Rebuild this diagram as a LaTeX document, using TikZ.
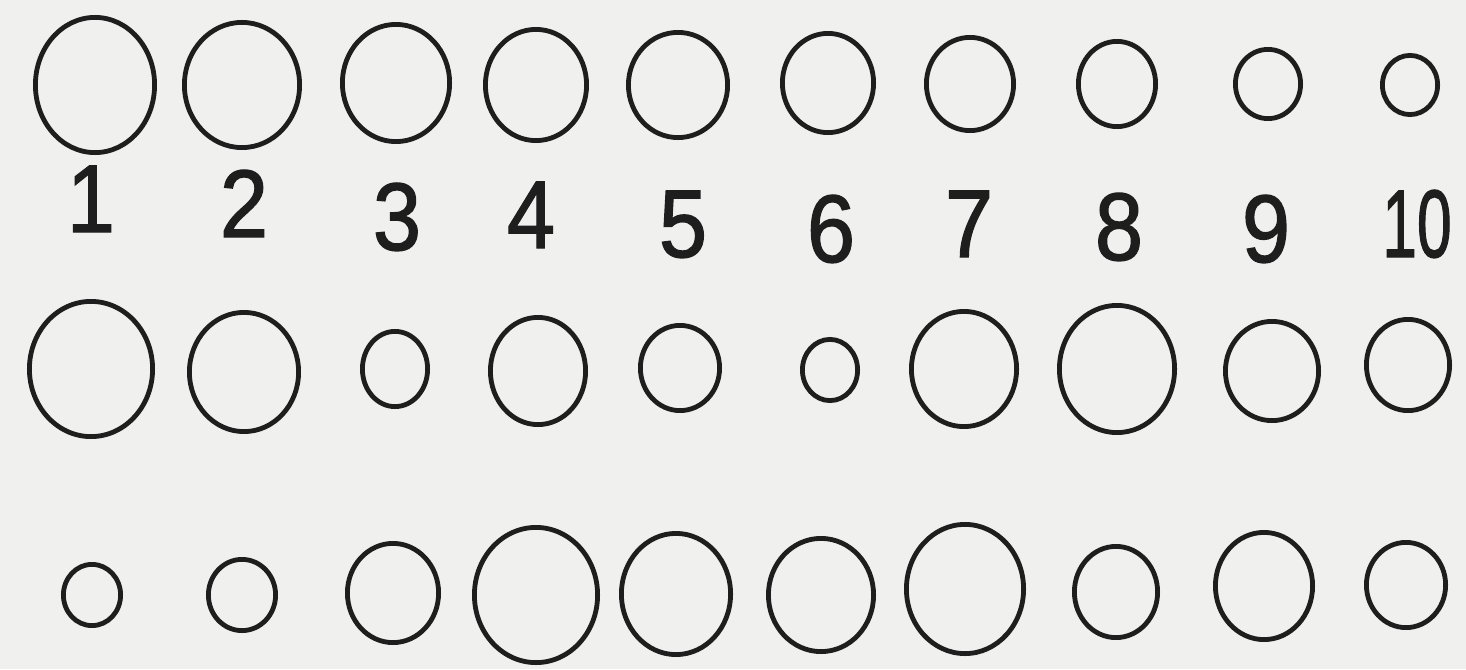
\documentclass[tikz,border=0pt]{standalone}
\usepackage{fontspec}
\setmainfont{Liberation Sans}[FakeBold=1.5]
\usetikzlibrary{shapes.geometric}
\definecolor{paper}{RGB}{240,240,239}
\definecolor{ink}{RGB}{30,30,30}
\tikzset{
  ring/.style={ellipse, draw=ink, line width=4.8pt, inner sep=0pt},
  numlabel/.style={anchor=base, text=ink, inner sep=0pt, font=\fontsize{96}{96}\selectfont}
}
\begin{document}
\begin{tikzpicture}[x=1pt,y=-1pt]
\fill[paper] (0,0) rectangle (1466,669);
\useasboundingbox (0,0) rectangle (1466,669);
% top row
\foreach \n/\x/\y/\a/\b in {1/95/85/62/70, 2/242/85/60/65, 3/396/83/56/61, 4/536/85/53/58, 5/678/85/52/55,
  6/828/83/48/52, 7/970/84/46/49, 8/1117/84/41/45, 9/1268/84/35/37, 10/1410/85/30/32}
  \node[ring, minimum width={2*\a-4.8}, minimum height={2*\b-4.8}] (t\n) at (\x,\y) {};
% labels
\foreach \n/\x/\y in {1/91/232, 2/244/237, 3/397/250, 4/531/248, 5/683/257,
  6/831/262, 7/969/257, 8/1119/260, 9/1266/262}
  \node[numlabel, xscale=0.9] (l\n) at (\x,\y) {\n};
\node[numlabel, xscale=0.65] (l10) at (1417,257) {10};
% middle row
\foreach \n/\x/\y/\a/\b in {1/91/369/64/70, 2/244/372/57/62, 3/395/369/35/40, 4/538/371/50/56, 5/680/368/42/45,
  6/830/370/30/33, 7/964/369/55/60, 8/1117/369/60/66, 9/1272/371/49/52, 10/1408/365/44/48}
  \node[ring, minimum width={2*\a-4.8}, minimum height={2*\b-4.8}] (m\n) at (\x,\y) {};
% bottom row
\foreach \n/\x/\y/\a/\b in {1/92/595/31/33, 2/242/595/36/38, 3/393/593/48/52, 4/536/595/64/70, 5/676/594/57/63,
  6/821/595/55/59, 7/965/589/61/67, 8/1116/592/44/48, 9/1264/586/51/56, 10/1406/585/42/45}
  \node[ring, minimum width={2*\a-4.8}, minimum height={2*\b-4.8}] (b\n) at (\x,\y) {};
\end{tikzpicture}
\end{document}
